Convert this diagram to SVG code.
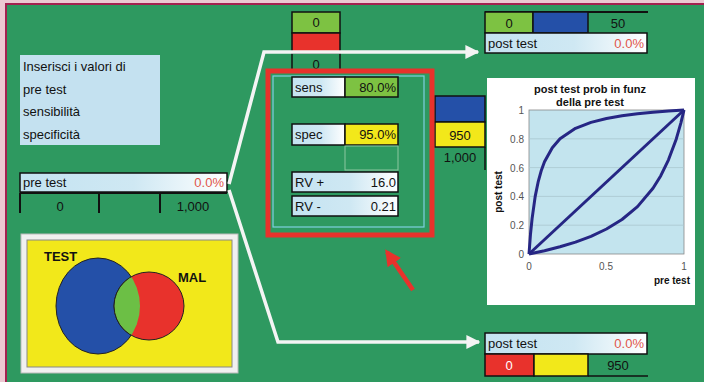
<svg xmlns="http://www.w3.org/2000/svg" width="704" height="382" viewBox="0 0 704 382">
<defs>
<linearGradient id="lb" x1="0" y1="0" x2="1" y2="0">
<stop offset="0" stop-color="#c4e3f1"/><stop offset="0.55" stop-color="#cfe8f3"/><stop offset="1" stop-color="#ffffff"/>
</linearGradient>
<marker id="wa" viewBox="0 0 10 10" refX="9" refY="5" markerWidth="4" markerHeight="4" orient="auto" markerUnits="strokeWidth">
<path d="M0,0 L10,5 L0,10 z" fill="#f4f4f4"/>
</marker>
<marker id="ra" viewBox="0 0 10 10" refX="8" refY="5" markerWidth="3.6" markerHeight="3.6" orient="auto" markerUnits="strokeWidth">
<path d="M0,0 L10,5 L0,10 z" fill="#e8322c"/>
</marker>
</defs>
<style>
text{font-family:"Liberation Sans",Arial,sans-serif;font-size:13px;fill:#111}
.r{text-anchor:end}.m{text-anchor:middle}
.red{fill:#e0564c}
.cell{stroke:#111;stroke-width:1.5}
.wl{fill:none;stroke:#f4f4f4;stroke-width:3.5}
.ax{font-size:10px;fill:#555}
.b{font-weight:bold}
.curve{fill:none;stroke:#262684;stroke-width:3;stroke-linejoin:round}
</style>
<rect width="704" height="382" fill="#ecc9d2"/>
<rect x="6" y="4" width="698" height="378" fill="#2e9960"/>
<line x1="5" y1="4" x2="704" y2="4" stroke="#a3224f" stroke-width="2"/>
<line x1="6" y1="4" x2="6" y2="382" stroke="#a3224f" stroke-width="2"/>

<g id="instructions">
<rect x="20" y="55" width="140" height="90" fill="#c4e1f0"/>
<text x="23" y="71">Inserisci i valori di</text>
<text x="23" y="94">pre test</text>
<text x="23" y="116">sensibilità</text>
<text x="23" y="139">specificità</text>
</g>

<g id="pretest">
<rect x="20" y="173" width="207" height="19" fill="url(#lb)" class="cell"/>
<text x="23" y="187">pre test</text>
<text x="224" y="187" class="r red">0.0%</text>
<path d="M20,193 H227 M20,193 V213 M99,193 V213 M160,193 V213" stroke="#111" stroke-width="2" fill="none"/>
<text x="60" y="211" class="m">0</text>
<text x="193" y="211" class="m">1,000</text>
</g>

<g id="venn">
<rect x="21" y="234" width="217" height="139" fill="#f0f0f0" stroke="#bbb" stroke-width="1"/>
<rect x="27" y="240" width="205" height="127" fill="#f2e81a" stroke="#888" stroke-width="1"/>
<ellipse cx="98" cy="306" rx="42" ry="48" fill="#2450a8" stroke="#222" stroke-width="1"/>
<ellipse cx="149" cy="306" rx="35" ry="34" fill="#e8322c" stroke="#222" stroke-width="1"/>
<clipPath id="cp"><ellipse cx="98" cy="306" rx="42" ry="48"/></clipPath>
<ellipse cx="149" cy="306" rx="35" ry="34" fill="#6cbf45" stroke="#222" stroke-width="1" clip-path="url(#cp)"/>
<text x="44" y="261" class="b" style="font-size:13px">TEST</text>
<text x="178" y="282" class="b" style="font-size:13px">MAL</text>
</g>

<g id="topcol">
<rect x="292" y="12" width="48" height="21" fill="#7dc242" class="cell"/>
<text x="316" y="27" class="m">0</text>
<rect x="292" y="33" width="48" height="20" fill="#e8322c" class="cell"/>
<path d="M292,53 V72 M340,53 V72" stroke="#111" stroke-width="1.5"/>
<text x="316" y="69" class="m">0</text>
</g>

<g id="midcol">
<rect x="435" y="96" width="50" height="26" fill="#2450a8" class="cell"/>
<rect x="435" y="122" width="50" height="25" fill="#f2e81a" class="cell"/>
<text x="460" y="140" class="m">950</text>
<path d="M485,147 V170" stroke="#111" stroke-width="1.5"/>
<text x="460" y="162" class="m">1,000</text>
</g>

<g id="connectors">
<polyline class="wl" points="229,184 264,52 478,52" marker-end="url(#wa)"/>
<polyline class="wl" points="229,190 278,342 479,342" marker-end="url(#wa)"/>
<line x1="413" y1="290" x2="387" y2="252" stroke="#e8322c" stroke-width="4.5" marker-end="url(#ra)"/>
</g>

<g id="inputs">
<rect x="268" y="71" width="164" height="164" fill="none" stroke="#e8322c" stroke-width="5"/>
<rect x="273" y="76" width="151" height="151" fill="none" stroke="#7fd0e0" stroke-width="1.2"/>
<rect x="292" y="77" width="53" height="20" fill="url(#lb)" class="cell"/>
<rect x="345" y="77" width="53" height="20" fill="#7dc242" class="cell"/>
<text x="295" y="92">sens</text>
<text x="396" y="92" class="r">80.0%</text>
<rect x="292" y="124" width="53" height="21" fill="url(#lb)" class="cell"/>
<rect x="345" y="124" width="53" height="21" fill="#f2e81a" class="cell"/>
<text x="295" y="139">spec</text>
<text x="396" y="139" class="r">95.0%</text>
<rect x="345" y="146" width="53" height="24" fill="none" stroke="#8cc7a0" stroke-width="1"/>
<rect x="292" y="172" width="106" height="20" fill="url(#lb)" class="cell"/>
<text x="295" y="187">RV +</text>
<text x="396" y="187" class="r">16.0</text>
<rect x="292" y="196" width="106" height="20" fill="url(#lb)" class="cell"/>
<text x="295" y="211">RV -</text>
<text x="396" y="211" class="r">0.21</text>
</g>

<g id="postpos">
<line x1="485" y1="12" x2="648" y2="12" stroke="#111" stroke-width="2"/>
<rect x="485" y="12" width="48" height="21" fill="#7dc242" class="cell"/>
<rect x="533" y="12" width="55" height="21" fill="#2450a8" class="cell"/>
<text x="509" y="28" class="m">0</text>
<text x="618" y="28" class="m">50</text>
<rect x="485" y="33" width="162" height="20" fill="url(#lb)" class="cell"/>
<text x="488" y="48">post test</text>
<text x="644" y="48" class="r red">0.0%</text>
</g>

<g id="postneg">
<rect x="485" y="333" width="162" height="21" fill="url(#lb)" class="cell"/>
<text x="488" y="348">post test</text>
<text x="644" y="348" class="r red">0.0%</text>
<rect x="485" y="354" width="49" height="22" fill="#e8322c" class="cell"/>
<rect x="534" y="354" width="54" height="22" fill="#f2e81a" class="cell"/>
<text x="509" y="370" class="m" style="fill:#fff">0</text>
<text x="618" y="370" class="m">950</text>
<path d="M588,376 H648" stroke="#111" stroke-width="1.5"/>
</g>

<g id="chart">
<rect x="487" y="78" width="208" height="227" fill="#ffffff"/>
<rect x="529" y="110" width="155" height="144" fill="#c3e4ee" stroke="#888" stroke-width="0.8"/>
<path d="M529,138.8 H684 M529,167.6 H684 M529,196.4 H684 M529,225.2 H684" stroke="#a9c7cf" stroke-width="0.8"/>
<text x="590" y="93" class="m b" style="font-size:11px">post test prob in funz</text>
<text x="590" y="106" class="m b" style="font-size:11px">della pre test</text>
<text x="524" y="114" class="r ax">1</text>
<text x="524" y="143" class="r ax">0.8</text>
<text x="524" y="172" class="r ax">0.6</text>
<text x="524" y="200" class="r ax">0.4</text>
<text x="524" y="229" class="r ax">0.2</text>
<text x="524" y="258" class="r ax">0</text>
<text x="529" y="270" class="m ax">0</text>
<text x="606" y="270" class="m ax">0.5</text>
<text x="684" y="270" class="m ax">1</text>
<text x="690" y="284" class="r b" style="font-size:10px">pre test</text>
<text transform="translate(502,192) rotate(-90)" class="m b" style="font-size:10px">post test</text>
<line class="curve" x1="529" y1="254" x2="684" y2="110"/>
<polyline class="curve" points="529,254 530.5,234 532.1,218.6 535.2,196.4 538.3,181.3 541.4,170.2 544.5,161.8 552.3,147.7 560,138.8 575.5,128.3 591,122.4 606.5,118.5 622,115.8 637.5,113.7 653,112.2 668.5,111 684,110"/>
<polyline class="curve" points="529,254 544.5,250.7 560,246.8 575.5,242.1 591,236.3 606.5,229 622,219.5 637.5,206.6 653,188.3 660.8,175.7 668.5,159.8 676.3,138.9 680.9,122.8 684,110"/>
</g>
</svg>
